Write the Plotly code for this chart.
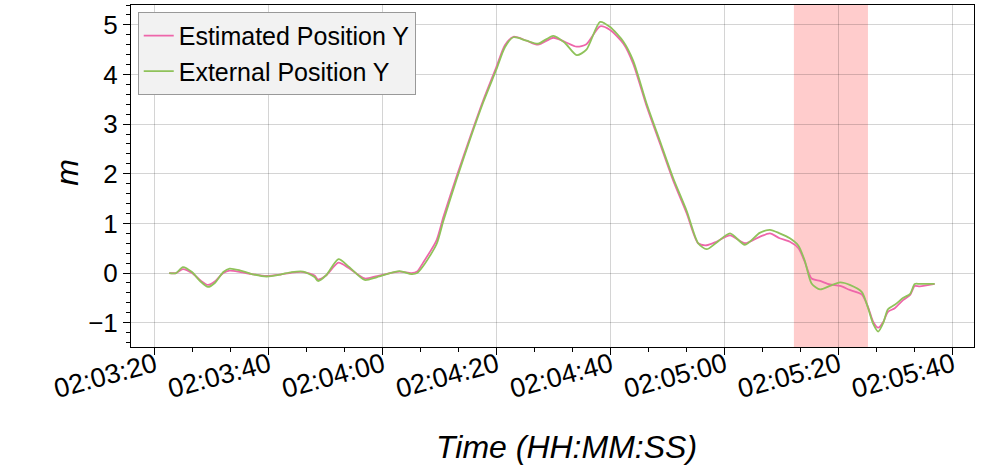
import plotly.graph_objects as go
import pandas as pd

# seconds after 02:03:20
t_sec = [2.5, 3.7, 4.9, 6.5, 8.0, 9.3, 10.5, 12.0, 13.1, 15.0, 17.0, 19.6, 22.0, 24.0, 26.0,
         28.0, 28.6, 30.0, 32.2, 34.0, 36.8, 39.0, 42.9, 45.0, 46.0, 47.0, 49.4, 50.6, 52.9,
         55.3, 57.6, 59.9, 61.4, 62.9, 65.2, 67.2, 69.9, 71.9, 74.0, 75.7, 78.1, 79.8, 82.2,
         83.9, 86.3, 88.6, 90.9, 93.3, 95.3, 96.8, 98.5, 100.9, 103.5, 106.1, 107.9, 109.6,
         111.4, 112.9, 114.0, 115.2, 116.7, 118.4, 120.2, 121.9, 124.0, 125.1, 126.0, 126.9,
         127.8, 128.6, 129.8, 131.3, 132.5, 133.3, 134.2, 136.8]

estimated_y = [0.0, 0.0, 0.08, 0.0, -0.15, -0.24, -0.17, 0.0, 0.05, 0.02, -0.02, -0.06, -0.03,
               0.01, 0.02, -0.05, -0.13, -0.05, 0.21, 0.10, -0.11, -0.06, 0.03, 0.0, 0.03, 0.2,
               0.66, 1.13, 1.94, 2.74, 3.48, 4.15, 4.59, 4.76, 4.68, 4.60, 4.74, 4.66, 4.56,
               4.61, 4.97, 4.90, 4.62, 4.22, 3.35, 2.61, 1.87, 1.20, 0.60, 0.56, 0.63, 0.76,
               0.60, 0.73, 0.80, 0.70, 0.63, 0.50, 0.23, -0.11, -0.16, -0.23, -0.26, -0.34,
               -0.43, -0.68, -0.98, -1.10, -0.98, -0.78, -0.71, -0.54, -0.44, -0.26, -0.27, -0.22]

external_y = [0.0, 0.0, 0.12, 0.02, -0.17, -0.28, -0.2, 0.02, 0.09, 0.05, -0.02, -0.07, -0.03,
              0.02, 0.03, -0.08, -0.16, -0.05, 0.28, 0.13, -0.14, -0.08, 0.04, -0.02, 0.0, 0.13,
              0.58, 1.05, 1.88, 2.70, 3.44, 4.10, 4.55, 4.75, 4.68, 4.62, 4.78, 4.64, 4.39,
              4.50, 5.06, 4.96, 4.66, 4.28, 3.40, 2.66, 1.92, 1.25, 0.60, 0.48, 0.61, 0.80,
              0.57, 0.81, 0.87, 0.80, 0.70, 0.55, 0.25, -0.21, -0.33, -0.26, -0.19, -0.24,
              -0.38, -0.70, -1.02, -1.18, -1.00, -0.73, -0.64, -0.50, -0.42, -0.22, -0.22, -0.22]

shade_start = '2024-01-01 02:05:12.1'
shade_end = '2024-01-01 02:05:25.1'

base = pd.Timestamp('2024-01-01 02:03:20')
times = [base + pd.Timedelta(seconds=s) for s in t_sec]

fig = go.Figure()
fig.add_vrect(x0=shade_start, x1=shade_end, fillcolor='rgba(255,0,0,0.2)',
              line_width=0, layer='below')
fig.add_trace(go.Scatter(x=times, y=estimated_y, mode='lines', name='Estimated Position Y',
                         line=dict(color='#ee66aa', width=1.8, shape='spline', smoothing=0.7)))
fig.add_trace(go.Scatter(x=times, y=external_y, mode='lines', name='External Position Y',
                         line=dict(color='#8fc25a', width=1.8, shape='spline', smoothing=0.7)))

font = 'Liberation Sans, Arial, sans-serif'
fig.update_layout(
    width=996, height=469,
    margin=dict(l=131, r=22, t=5, b=122),
    plot_bgcolor='white', paper_bgcolor='white',
    font=dict(family=font, color='black', size=26),
    legend=dict(x=0.008, y=0.98, xanchor='left', yanchor='top',
                bgcolor='#f2f2f2', bordercolor='#999999', borderwidth=1,
                font=dict(size=25), tracegroupgap=0, itemwidth=30),
)
# axis titles as annotations so they sit where the reference has them
fig.add_annotation(text='<i>Time (HH:MM:SS)</i>', xref='paper', yref='paper',
                   x=0.517, y=-0.292, showarrow=False, font=dict(size=32),
                   xanchor='center', yanchor='middle')
fig.add_annotation(text='<i>m</i>', xref='paper', yref='paper', textangle=-90,
                   x=-0.077, y=0.51, showarrow=False, font=dict(size=32),
                   xanchor='center', yanchor='middle')
fig.update_xaxes(
    type='date', automargin=False,
    range=['2024-01-01 02:03:15.8', '2024-01-01 02:05:43.7'],
    tickformat='%H:%M:%S', dtick=20000, tick0='2024-01-01 02:03:20',
    tickangle=-15, tickfont=dict(size=27), ticklabelstandoff=-16,
    ticks='outside', ticklen=7, tickcolor='black',
    minor=dict(dtick=20000 / 3, ticks='outside', ticklen=4, tickcolor='black', showgrid=False),
    showgrid=True, gridcolor='rgba(0,0,0,0.17)',
    showline=True, linecolor='black', linewidth=1, mirror=True,
    zeroline=False,
)
fig.update_yaxes(
    automargin=False,
    range=[-1.49, 5.4], dtick=1, tickfont=dict(size=26),
    ticks='outside', ticklen=7, tickcolor='black',
    minor=dict(dtick=0.2, ticks='outside', ticklen=4, tickcolor='black', showgrid=False),
    showgrid=True, gridcolor='rgba(0,0,0,0.17)',
    showline=True, linecolor='black', linewidth=1, mirror=True,
    zeroline=False,
)

fig.write_html('out.html', config={'displayModeBar': False},
               post_script="document.body.style.margin='0';")
